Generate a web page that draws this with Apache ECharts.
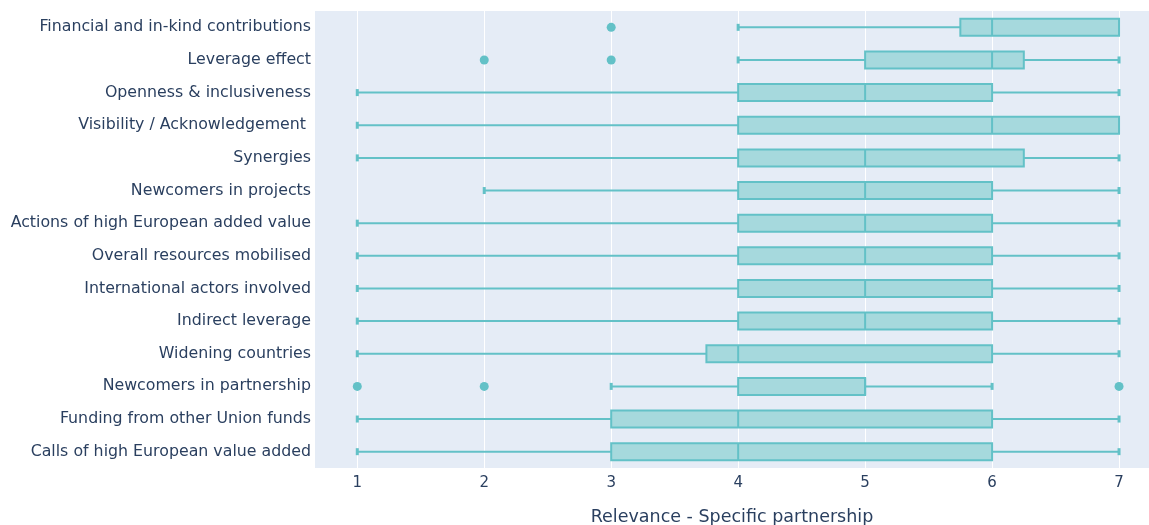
<!DOCTYPE html>
<html>
<head>
<meta charset="utf-8">
<script src="https://cdn.jsdelivr.net/npm/echarts@6/dist/echarts.min.js"></script>
<style>html,body{margin:0;padding:0;background:#fff}#c{width:1149px;height:525px}</style>
</head>
<body>
<div id="c"></div>
<script>
const categories = [
  "Financial and in-kind contributions",
  "Leverage effect",
  "Openness & inclusiveness",
  "Visibility / Acknowledgement ",
  "Synergies",
  "Newcomers in projects",
  "Actions of high European added value",
  "Overall resources mobilised",
  "International actors involved",
  "Indirect leverage",
  "Widening countries",
  "Newcomers in partnership",
  "Funding from other Union funds",
  "Calls of high European value added"
];
const lowerFence = [4, 4, 1, 1, 1, 2, 1, 1, 1, 1, 1, 3, 1, 1];
const q1 =         [5.75, 5, 4, 4, 4, 4, 4, 4, 4, 4, 3.75, 4, 3, 3];
const median =     [6, 6, 5, 6, 5, 5, 5, 5, 5, 5, 4, 5, 4, 4];
const q3 =         [7, 6.25, 6, 7, 6.25, 6, 6, 6, 6, 6, 6, 5, 6, 6];
const upperFence = [7, 7, 7, 7, 7, 7, 7, 7, 7, 7, 7, 6, 7, 7];
const outliers = [
  [0, 3],
  [1, 2], [1, 3],
  [11, 1], [11, 2], [11, 7]
];
const xTicks = [1, 2, 3, 4, 5, 6, 7];

const lineColor = '#63c1c7';
const fillColor = '#a6d9dd';
const FONT = "'DejaVu Sans'";

const boxData = categories.map((c, i) => [i, lowerFence[i], q1[i], median[i], q3[i], upperFence[i]]);
const outlierData = outliers.map(o => [o[1], categories[o[0]]]);

function renderBox(params, api) {
  const idx = api.value(0);
  const lo = api.value(1), a = api.value(2), m = api.value(3), b = api.value(4), hi = api.value(5);
  const band = api.size([0, 1])[1];
  const h = band * 0.52;
  const capH = 7;
  const pLo = api.coord([lo, idx]);
  const pA = api.coord([a, idx]);
  const pM = api.coord([m, idx]);
  const pB = api.coord([b, idx]);
  const pHi = api.coord([hi, idx]);
  const y = pA[1];
  const children = [];
  const ls = {stroke: lineColor, lineWidth: 2, fill: null};
  const cs = {stroke: lineColor, lineWidth: 3, fill: null};
  if (pLo[0] < pA[0]) {
    children.push({type: 'line', shape: {x1: pLo[0], y1: y, x2: pA[0], y2: y}, style: ls});
    children.push({type: 'line', shape: {x1: pLo[0], y1: y - capH / 2, x2: pLo[0], y2: y + capH / 2}, style: cs});
  }
  if (pHi[0] > pB[0]) {
    children.push({type: 'line', shape: {x1: pB[0], y1: y, x2: pHi[0], y2: y}, style: ls});
    children.push({type: 'line', shape: {x1: pHi[0], y1: y - capH / 2, x2: pHi[0], y2: y + capH / 2}, style: cs});
  }
  children.push({type: 'rect', shape: {x: pA[0], y: y - h / 2, width: pB[0] - pA[0], height: h},
    style: {fill: fillColor, stroke: lineColor, lineWidth: 2}});
  children.push({type: 'line', shape: {x1: pM[0], y1: y - h / 2, x2: pM[0], y2: y + h / 2}, style: ls});
  return {type: 'group', children: children};
}

const chart = echarts.init(document.getElementById('c'), null, {renderer: 'canvas'});
chart.setOption({
  animation: false,
  backgroundColor: '#ffffff',
  grid: {left: 315, right: 0, top: 11, bottom: 57, show: true, backgroundColor: '#E5ECF6', borderWidth: 0,
         containLabel: false, outerBoundsMode: 'none'},
  xAxis: {
    type: 'value', min: 0.667, max: 7.236,
    name: 'Relevance - Specific partnership',
    nameLocation: 'middle', nameGap: 40,
    nameTextStyle: {fontFamily: FONT, fontSize: 17.5, color: '#2a3f5f'},
    axisLine: {show: false}, axisTick: {show: false},
    axisLabel: {
      fontFamily: FONT, fontSize: 15, color: '#2a3f5f', margin: 8,
      customValues: xTicks,
      formatter: v => String(v)
    },
    splitLine: {show: false}
  },
  yAxis: {
    type: 'category', data: categories, inverse: true,
    axisLine: {show: false}, axisTick: {show: false},
    axisLabel: {fontFamily: FONT, fontSize: 15.8, color: '#2a3f5f', margin: 4},
    splitLine: {show: false}
  },
  series: [
    {
      type: 'line', data: [], silent: true, z: 0,
      markLine: {
        silent: true, symbol: 'none', label: {show: false}, z: 0,
        lineStyle: {color: '#ffffff', width: 1, type: 'solid'},
        data: xTicks.map(t => ({xAxis: t}))
      }
    },
    {
      type: 'custom', renderItem: renderBox, data: boxData,
      encode: {x: [1, 2, 3, 4, 5], y: 0}, z: 3
    },
    {
      type: 'scatter', data: outlierData, symbol: 'circle', symbolSize: 9,
      itemStyle: {color: lineColor, opacity: 1}, z: 4
    }
  ]
});
</script>
</body>
</html>
